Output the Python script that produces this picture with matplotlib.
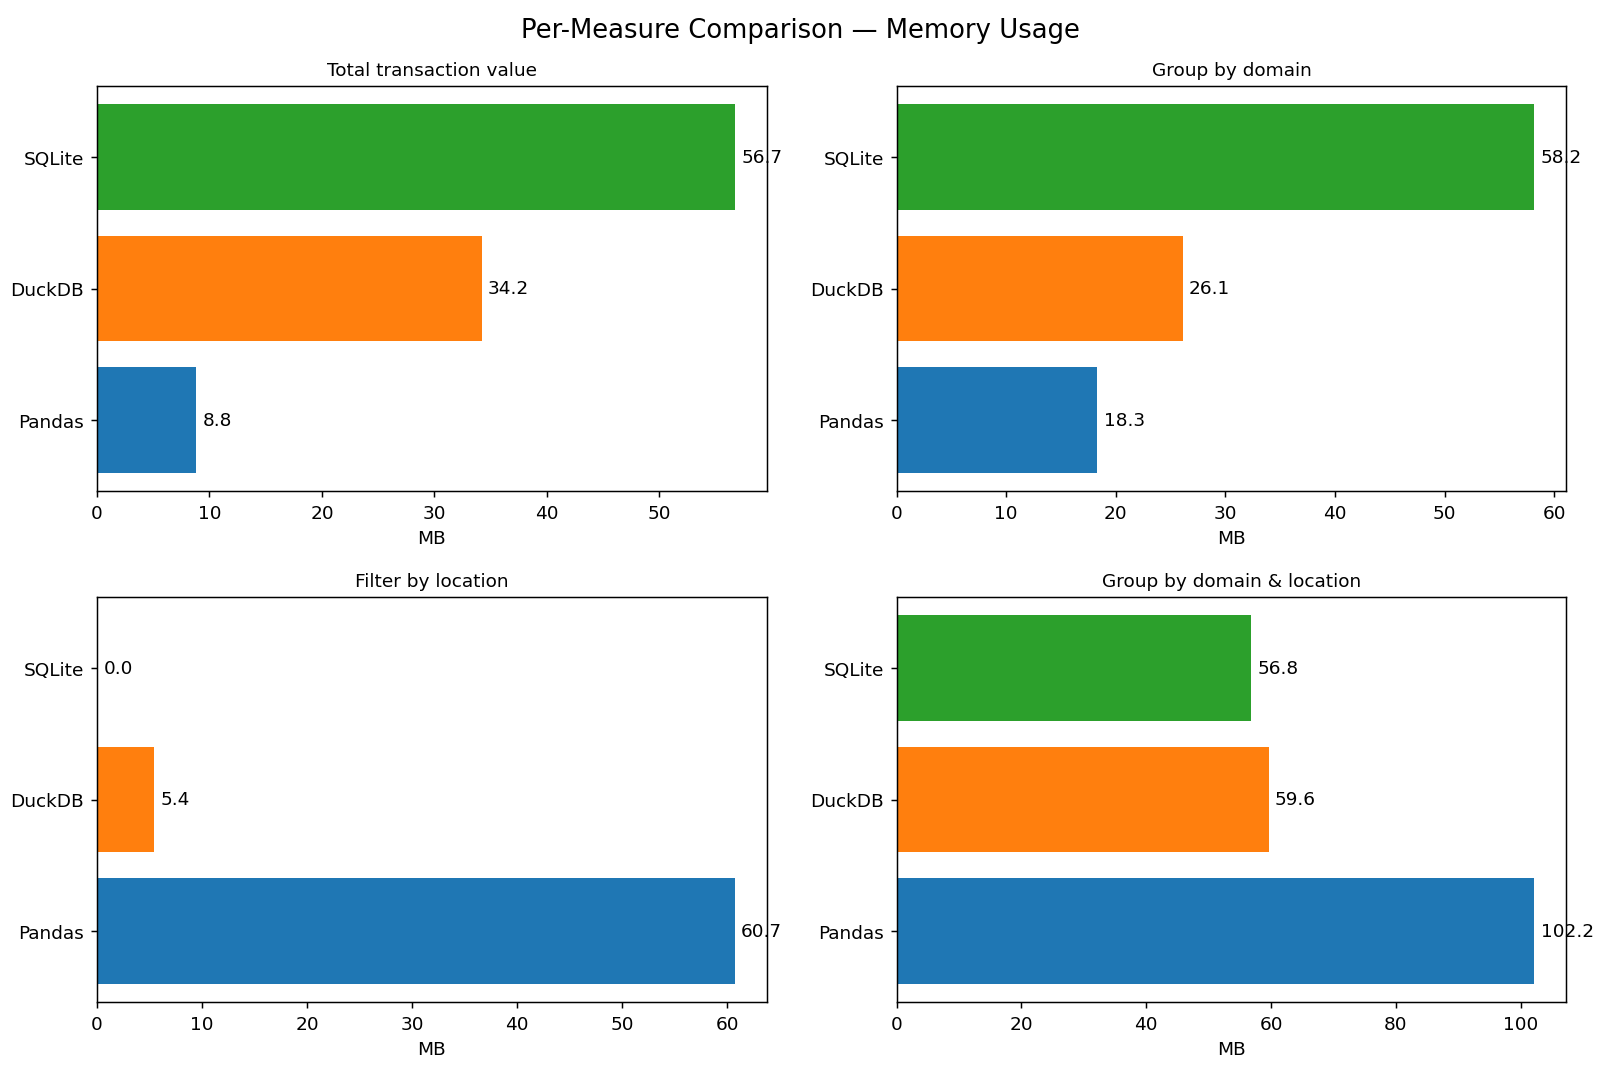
import matplotlib
matplotlib.use("Agg")
import matplotlib.pyplot as plt

engines = ["Pandas", "DuckDB", "SQLite"]
colors = ["#1f77b4", "#ff7f0e", "#2ca02c"]
measures = ["Total transaction value", "Group by domain",
            "Filter by location", "Group by domain & location"]
total_value = [8.8, 34.2, 56.7]
group_domain = [18.3, 26.1, 58.2]
filter_location = [60.7, 5.4, 0.0]
group_domain_location = [102.2, 59.6, 56.8]
all_values = [total_value, group_domain, filter_location, group_domain_location]

fig, axes = plt.subplots(2, 2, figsize=(12, 8.04), dpi=133.33)
fig.subplots_adjust(left=0.0606, right=0.979, top=0.9188, bottom=0.0644,
                    wspace=0.194, hspace=0.262)
for ax, title, vals in zip(axes.flat, measures, all_values):
    ypos = list(range(len(engines)))
    ax.barh(ypos, vals, color=colors)
    ax.set_yticks(ypos)
    ax.set_yticklabels(engines)
    ax.set_title(title, fontsize=10)
    ax.set_xlabel("MB")
    mx = max(vals)
    for y, v in zip(ypos, vals):
        ax.text(v + mx * 0.01, y, f"{v:.1f}", va="center")

fig.suptitle("Per-Measure Comparison \u2014 Memory Usage", fontsize=14, y=0.983)
fig.savefig("out.png", dpi=133.33)
